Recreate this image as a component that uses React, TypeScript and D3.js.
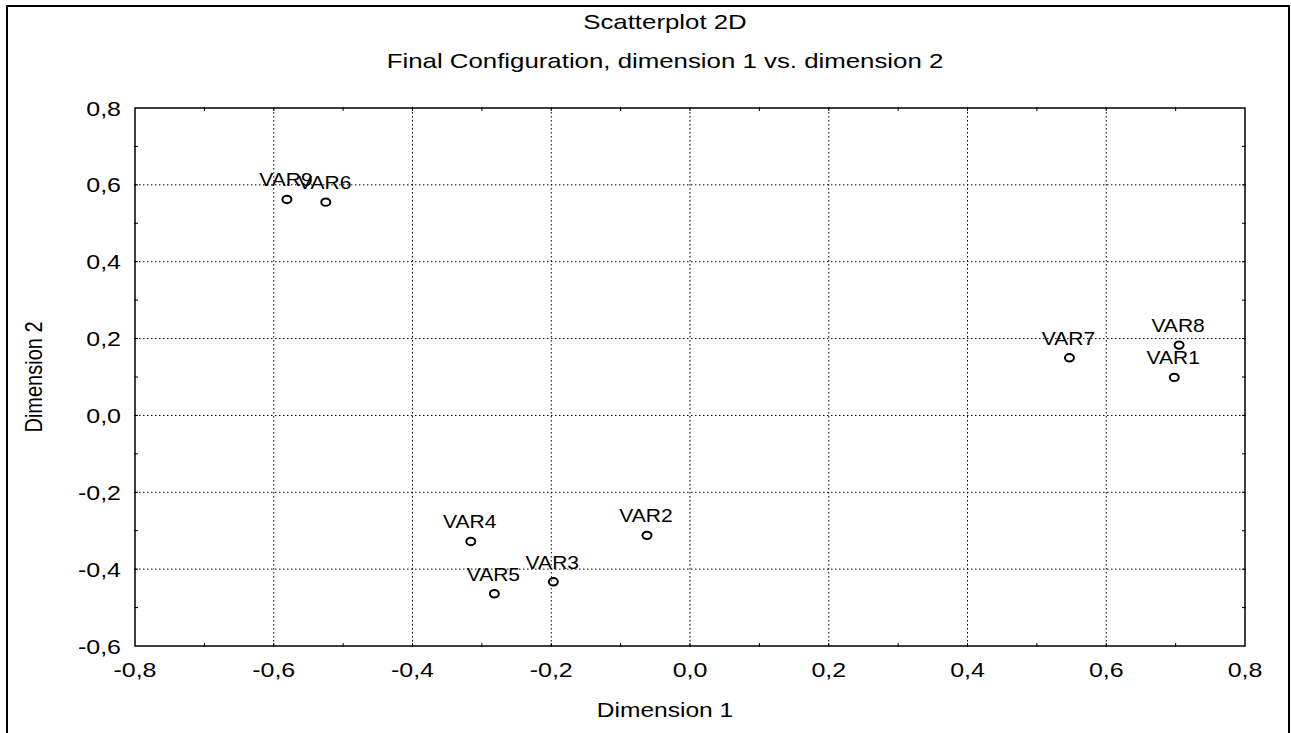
import React from "react";
import * as d3 from "d3";

// Final configuration coordinates (multidimensional scaling output)
const variables = ["VAR1", "VAR2", "VAR3", "VAR4", "VAR5", "VAR6", "VAR7", "VAR8", "VAR9"];
const dimension1 = [0.698, -0.062, -0.197, -0.316, -0.282, -0.525, 0.547, 0.705, -0.581];
const dimension2 = [0.099, -0.312, -0.433, -0.328, -0.464, 0.555, 0.150, 0.183, 0.562];

const xTicks = [-0.8, -0.6, -0.4, -0.2, 0.0, 0.2, 0.4, 0.6, 0.8];
const yTicks = [-0.6, -0.4, -0.2, 0.0, 0.2, 0.4, 0.6, 0.8];

const titleLines = ["Scatterplot 2D", "Final Configuration, dimension 1 vs. dimension 2"];
const xAxisTitle = "Dimension 1";
const yAxisTitle = "Dimension 2";

const W = 1291;
const H = 733;
const FONT = "'Liberation Sans', Arial, Helvetica, sans-serif";

const fmt = (v: number) => d3.format(".1f")(v).replace("−", "-").replace(".", ",");

// Text drawn with a slight horizontal widening
function SText({
  x,
  y,
  size,
  sx = 1.18,
  anchor = "middle",
  rotate = 0,
  children,
}: {
  x: number;
  y: number;
  size: number;
  sx?: number;
  anchor?: string;
  rotate?: number;
  children: React.ReactNode;
}) {
  const t = `translate(${x},${y}) scale(${sx},1)` + (rotate ? ` rotate(${rotate})` : "");
  return (
    <text transform={t} fontFamily={FONT} fontSize={size} textAnchor={anchor} fill="#000">
      {children}
    </text>
  );
}

export default function App() {
  const left = 135;
  const right = 1245;
  const top = 108;
  const bottom = 646;

  const x = d3.scaleLinear().domain([-0.8, 0.8]).range([left, right]);
  const y = d3.scaleLinear().domain([-0.6, 0.8]).range([bottom, top]);

  const xMinor = d3.range(-7, 8).map((i) => i / 10);
  const yMinor = d3.range(-5, 8).map((i) => i / 10);

  return (
    <svg
      width={W}
      height={H}
      style={{ position: "absolute", left: 0, top: 0, background: "#fff" }}
    >
      <rect x={0} y={0} width={W} height={H} fill="#fff" />
      {/* outer frame */}
      <rect x={7} y={6} width={1282} height={H + 20} fill="none" stroke="#000" strokeWidth={2} />

      {/* titles */}
      <SText x={665} y={29} size={20.5} sx={1.26}>{titleLines[0]}</SText>
      <SText x={665} y={68} size={20.5} sx={1.26}>{titleLines[1]}</SText>

      {/* grid */}
      <g stroke="#000" strokeWidth={1} strokeDasharray="1.5,2.5">
        {xTicks.slice(1, -1).map((v) => (
          <line key={`gx${v}`} x1={x(v)} x2={x(v)} y1={top} y2={bottom} />
        ))}
        {yTicks.slice(1, -1).map((v) => (
          <line key={`gy${v}`} x1={left} x2={right} y1={y(v)} y2={y(v)} />
        ))}
      </g>

      {/* minor and major ticks on all sides */}
      <g stroke="#000" strokeWidth={1}>
        {xMinor.map((v) => (
          <g key={`tx${v}`}>
            <line x1={x(v)} x2={x(v)} y1={top - 1} y2={top + 3} />
            <line x1={x(v)} x2={x(v)} y1={bottom + 1} y2={bottom - 3} />
          </g>
        ))}
        {yMinor.map((v) => (
          <g key={`ty${v}`}>
            <line x1={left - 1} x2={left + 3} y1={y(v)} y2={y(v)} />
            <line x1={right + 1} x2={right - 3} y1={y(v)} y2={y(v)} />
          </g>
        ))}
      </g>

      {/* plot frame */}
      <rect
        x={left}
        y={top}
        width={right - left}
        height={bottom - top}
        fill="none"
        stroke="#000"
        strokeWidth={1.5}
      />

      {/* tick labels */}
      {xTicks.map((v) => (
        <SText key={`lx${v}`} x={x(v)} y={677} size={21} sx={1.19}>
          {fmt(v)}
        </SText>
      ))}
      {yTicks.map((v) => (
        <SText key={`ly${v}`} x={121} y={y(v) + 7.5} size={21} sx={1.19} anchor="end">
          {fmt(v)}
        </SText>
      ))}

      {/* axis titles */}
      <SText x={665} y={717} size={21} sx={1.17}>{xAxisTitle}</SText>
      <SText x={42} y={(top + bottom) / 2} size={20} sx={1.18} rotate={-90}>
        {yAxisTitle}
      </SText>

      {/* points and labels */}
      {variables.map((name, i) => {
        const px = x(dimension1[i]);
        const py = y(dimension2[i]);
        return (
          <g key={name}>
            <ellipse cx={px} cy={py} rx={4.5} ry={3.7} fill="none" stroke="#000" strokeWidth={2} />
            <SText x={px - 1} y={py - 13} size={18} sx={1.17}>
              {name}
            </SText>
          </g>
        );
      })}
    </svg>
  );
}
